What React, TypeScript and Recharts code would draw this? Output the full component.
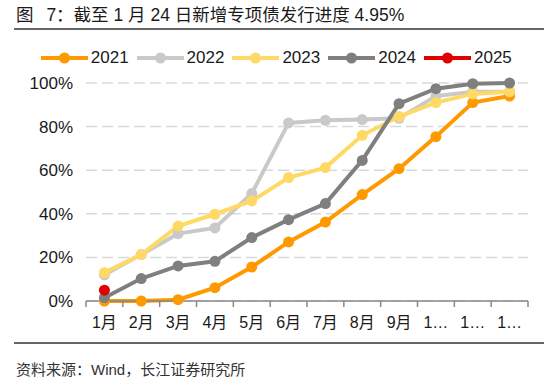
import { LineChart, Line, XAxis, YAxis, CartesianGrid, Legend } from "recharts"

const months = ["1月", "2月", "3月", "4月", "5月", "6月", "7月", "8月", "9月", "10月", "11月", "12月"]
const s2021 = [0, 0, 0.6, 6.1, 15.6, 27.1, 36.2, 48.8, 60.7, 75.4, 91, 94]
const s2022 = [12, 21.3, 30.9, 33.5, 49.3, 81.7, 82.9, 83.2, 83.8, 94, 96, 96]
const s2023 = [13, 21.3, 34.4, 39.8, 45.9, 56.6, 61.2, 76, 84.6, 91, 95, 96]
const s2024 = [1.5, 10.3, 16.1, 18.2, 29.1, 37.3, 44.7, 64.5, 90.5, 97.4, 99.7, 100]
const s2025 = [4.95, null, null, null, null, null, null, null, null, null, null, null]
const yTicks = [0, 20, 40, 60, 80, 100]

const series = [
    { key: "2021", color: "#FF9900" },
    { key: "2022", color: "#C9C9C9" },
    { key: "2023", color: "#FFD966" },
    { key: "2024", color: "#7F7F7F" },
    { key: "2025", color: "#E00000" },
]

const data = months.map((m, i) => ({
    month: m,
    "2021": s2021[i],
    "2022": s2022[i],
    "2023": s2023[i],
    "2024": s2024[i],
    "2025": s2025[i],
}))

const FONT = '"Liberation Sans", Arial, "Noto Sans CJK SC", sans-serif'
const W = 550
const H = 385
const M = { top: 83, right: 22, bottom: 54, left: 26 }
const Y_W = 60
const BAND = (W - M.left - Y_W - M.right) / months.length

function XTick(props: any) {
    const { x, y, payload, index } = props
    const label = String(payload.value)
    const text = label.length > 2 ? label[0] + "…" : label
    const left = x - BAND / 2
    return (
        <g>
            <line x1={left} x2={left} y1={y} y2={y + 6} stroke="#898989" strokeWidth={1.5} />
            {index === months.length - 1 && (
                <line x1={x + BAND / 2} x2={x + BAND / 2} y1={y} y2={y + 6} stroke="#898989" strokeWidth={1.5} />
            )}
            <text x={x} y={y + 27} textAnchor="middle" fontSize={16} fill="#1a1a1a" fontFamily={FONT}>
                {text}
            </text>
        </g>
    )
}

function LegendBox() {
    return (
        <div style={{ display: "flex", paddingLeft: 40.8, height: 20, alignItems: "center", fontFamily: FONT }}>
            {series.map((s) => (
                <div key={s.key} style={{ width: 95.8, display: "flex", alignItems: "center" }}>
                    <svg width={47} height={14}>
                        <line x1={0} x2={47} y1={7} y2={7} stroke={s.color} strokeWidth={4} />
                        <circle cx={23.5} cy={7} r={5.5} fill={s.color} />
                    </svg>
                    <span style={{ marginLeft: 3, fontSize: 17, color: "#1a1a1a" }}>{s.key}</span>
                </div>
            ))}
        </div>
    )
}

export default function App() {
    return (
        <div style={{ position: "absolute", left: 0, top: 0, width: W, height: H, background: "#fff", fontFamily: FONT }}>
            <div style={{ position: "absolute", left: 16, top: 6, fontSize: 17.5, lineHeight: "18px", color: "#1a1a1a", whiteSpace: "nowrap" }}>
                图<span style={{ marginLeft: 8 }}> </span>7：截至 1 月 24 日新增专项债发行进度 4.95%
            </div>
            <div style={{ position: "absolute", left: 14, top: 28, width: 530, height: 2, background: "#666" }} />
            <LineChart width={W} height={H} data={data} margin={M}>
                <CartesianGrid vertical={false} stroke="#D9D9D9" strokeWidth={1.5} strokeDasharray="11 5" />
                <XAxis
                    dataKey="month"
                    scale="band"
                    interval={0}
                    height={30}
                    tickLine={false}
                    tickSize={0}
                    tickMargin={0}
                    axisLine={{ stroke: "#898989", strokeWidth: 1.5 }}
                    tick={<XTick />}
                />
                <YAxis
                    width={Y_W}
                    domain={[0, 100]}
                    ticks={yTicks}
                    axisLine={false}
                    tickLine={false}
                    tickSize={0}
                    tickMargin={13}
                    tickFormatter={(v: number) => `${v}%`}
                    tick={{ fontSize: 17, fill: "#1a1a1a", fontFamily: FONT }}
                />
                <Legend
                    verticalAlign="middle"
                    align="center"
                    content={<LegendBox />}
                    wrapperStyle={{ top: 48.3, left: 0, width: W }}
                />
                {series.map((s) => (
                    <Line
                        key={s.key}
                        type="linear"
                        dataKey={s.key}
                        stroke={s.color}
                        strokeWidth={4}
                        dot={{ r: 5.5, fill: s.color, stroke: s.color, strokeWidth: 0 }}
                        activeDot={false}
                        isAnimationActive={false}
                    />
                ))}
            </LineChart>
            <div style={{ position: "absolute", left: 14, top: 342, width: 530, height: 2, background: "#666" }} />
            <div style={{ position: "absolute", left: 16, top: 361, fontSize: 15, lineHeight: "18px", color: "#333", whiteSpace: "nowrap" }}>
                资料来源：Wind，长江证券研究所
            </div>
        </div>
    )
}
